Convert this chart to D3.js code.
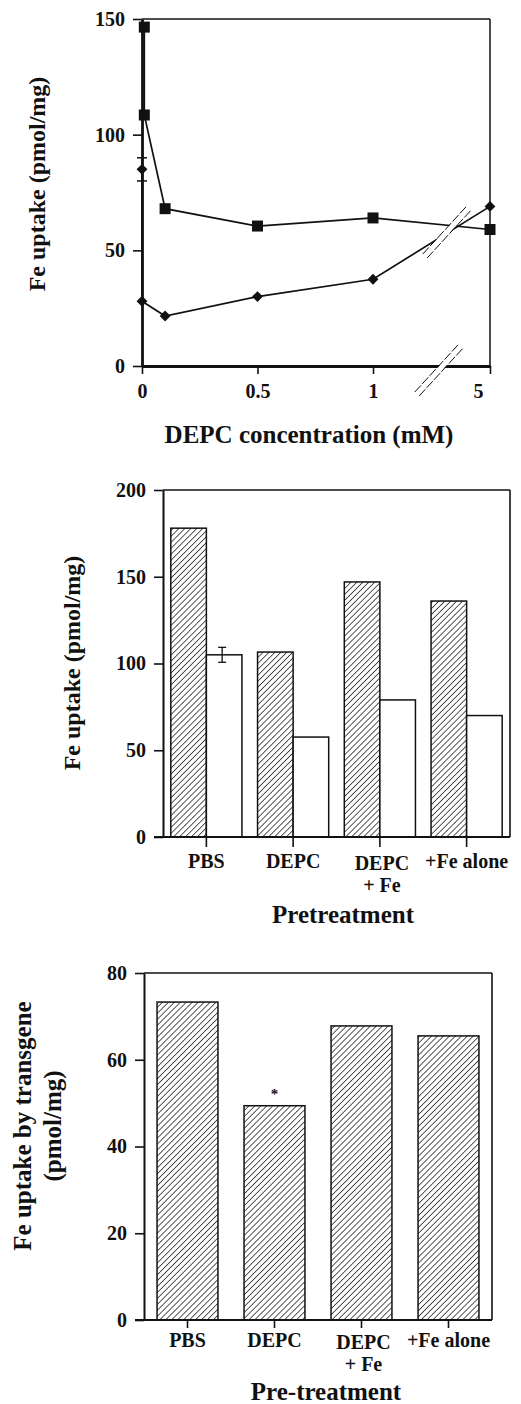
<!DOCTYPE html>
<html><head><meta charset="utf-8">
<script src="https://cdn.jsdelivr.net/npm/d3@7"></script>
<style>
body{margin:0;background:#fff;}
svg{display:block;}
text{font-family:"Liberation Serif","Times New Roman",serif;font-weight:bold;fill:#111;}
</style></head>
<body>
<script>
// ---------- Data ----------
// Panel A: line chart
const concTicks = [0, 0.5, 1, 5];
const concTickLabels = ["0", "0.5", "1", "5"];
const squareConc = [0.01, 0.01, 0.1, 0.5, 1, 5];
const squareUptake = [146.5, 108.5, 68, 60.5, 64, 59];
const diamondConc = [0, 0, 0.1, 0.5, 1, 5];
const diamondUptake = [85, 28, 21.6, 30, 37.5, 69];
const diamondErr = [5, 0, 0, 0, 0, 0];
const yTicksA = [0, 50, 100, 150];

// Panel B: grouped bars
const categoriesB = ["PBS", "DEPC", "DEPC|+ Fe", "+Fe alone"];
const hatchedB = [178, 106.6, 147, 136];
const openB = [105, 57.6, 79, 70];
const openErrB = [4.3, 0, 0, 0];
const yTicksB = [0, 50, 100, 150, 200];

// Panel C: single bars
const categoriesC = ["PBS", "DEPC", "DEPC|+ Fe", "+Fe alone"];
const transgeneC = [73.3, 49.4, 67.8, 65.5];
const significantC = [false, true, false, false];
const yTicksC = [0, 20, 40, 60, 80];

// ---------- SVG ----------
const W = 521, H = 1404;
const svg = d3.select("body").append("svg").attr("width", W).attr("height", H);

const defs = svg.append("defs");
const HS = 4.2;
const pat = defs.append("pattern").attr("id", "hatch").attr("patternUnits", "userSpaceOnUse")
  .attr("width", HS).attr("height", HS).attr("patternTransform", "rotate(45)");
pat.append("rect").attr("width", HS).attr("height", HS).attr("fill", "#fff");
pat.append("line").attr("x1", 0).attr("y1", 0).attr("x2", 0).attr("y2", HS)
  .attr("stroke", "#111").attr("stroke-width", 1.4);

function styleAxis(g, w) {
  g.selectAll("path.domain").attr("stroke", "#111").attr("stroke-width", w);
  g.selectAll(".tick line").attr("stroke", "#111").attr("stroke-width", 1.6);
  g.selectAll(".tick text").attr("font-family", "Liberation Serif, serif").attr("font-weight", "bold").attr("fill", "#111");
}

// ================= Panel A =================
(function () {
  const x = d3.scaleLinear().domain([0, 1, 5]).range([142, 373, 490]);
  const y = d3.scaleLinear().domain([0, 150]).range([366, 19]);
  const g = svg.append("g");

  g.append("line").attr("x1", x(0)).attr("x2", x(5)).attr("y1", y(150)).attr("y2", y(150)).attr("stroke", "#111").attr("stroke-width", 1.5);
  g.append("line").attr("x1", x(5)).attr("x2", x(5)).attr("y1", y(150)).attr("y2", y(0)).attr("stroke", "#111").attr("stroke-width", 1.5);

  const ya = g.append("g").attr("transform", `translate(${x(0)},0)`)
    .call(d3.axisLeft(y).tickValues(yTicksA).tickSizeInner(9).tickSizeOuter(0).tickPadding(8));
  styleAxis(ya, 2.8);
  ya.selectAll(".tick text").attr("font-size", 20);

  const xa = g.append("g").attr("transform", `translate(0,${y(0)})`)
    .call(d3.axisBottom(x).tickValues(concTicks).tickFormat((d, i) => concTickLabels[i]).tickSizeInner(8).tickSizeOuter(0).tickPadding(10));
  styleAxis(xa, 2.8);
  xa.selectAll(".tick text").attr("font-size", 20).attr("dx", (d) => d === 5 ? -12 : 0);

  const line = d3.line();
  const sqPts = squareConc.map((c, i) => [x(c), y(squareUptake[i])]);
  const diPts = diamondConc.map((c, i) => [x(c), y(diamondUptake[i])]);
  g.append("path").attr("d", line(sqPts)).attr("fill", "none").attr("stroke", "#111").attr("stroke-width", 1.7);
  g.append("path").attr("d", line(diPts)).attr("fill", "none").attr("stroke", "#111").attr("stroke-width", 1.7);

  diamondConc.forEach((c, i) => {
    if (!diamondErr[i]) return;
    const cx = x(c), v = diamondUptake[i], e = diamondErr[i];
    g.append("line").attr("x1", cx).attr("x2", cx).attr("y1", y(v - e)).attr("y2", y(v + e)).attr("stroke", "#111").attr("stroke-width", 1.5);
    [v - e, v + e].forEach(t => g.append("line").attr("x1", cx - 5).attr("x2", cx + 5).attr("y1", y(t)).attr("y2", y(t)).attr("stroke", "#111").attr("stroke-width", 1.5));
  });

  g.selectAll("rect.sq").data(sqPts).enter().append("rect")
    .attr("x", d => d[0] - 5.5).attr("y", d => d[1] - 5.5).attr("width", 11).attr("height", 11).attr("fill", "#111");
  g.selectAll("path.di").data(diPts).enter().append("path")
    .attr("d", d3.symbol(d3.symbolDiamond2, 75)).attr("transform", d => `translate(${d[0]},${d[1]})`).attr("fill", "#111");

  function breakMark(cx, cy) {
    const dx = 22, dy = -24;
    const bg = g.append("g");
    bg.append("line").attr("x1", cx - dx).attr("y1", cy - dy).attr("x2", cx + dx).attr("y2", cy + dy)
      .attr("stroke", "#fff").attr("stroke-width", 5);
    [-2.2, 2.2].forEach(o => {
      bg.append("line").attr("x1", cx - dx + o).attr("y1", cy - dy + o * 0.9).attr("x2", cx + dx + o).attr("y2", cy + dy + o * 0.9)
        .attr("stroke", "#111").attr("stroke-width", 1).attr("stroke-dasharray", "9,2");
    });
  }
  breakMark(447, 232);
  breakMark(439, 370);

  g.append("text").attr("x", 309).attr("y", 443).attr("text-anchor", "middle").attr("font-size", 25).text("DEPC concentration (mM)");
  g.append("text").attr("transform", "translate(45,184) rotate(-90)").attr("text-anchor", "middle").attr("font-size", 24).text("Fe uptake (pmol/mg)");
})();

function catLabels(g, xb, cats, yBase, size) {
  cats.forEach(c => {
    const parts = c.split("|");
    const cx = xb(c) + xb.bandwidth() / 2;
    parts.forEach((p, j) => {
      g.append("text").attr("x", cx + (parts.length > 1 ? 2 : 0)).attr("y", yBase + (parts.length > 1 ? 2 : 0) + j * 22)
        .attr("text-anchor", "middle").attr("font-size", size).text(p);
    });
  });
}

// ================= Panel B =================
(function () {
  const y = d3.scaleLinear().domain([0, 200]).range([837, 490]);
  const xb = d3.scaleBand().domain(categoriesB).range([163, 510]).paddingInner(0.18).paddingOuter(0.09);
  const xs = d3.scaleBand().domain(["h", "o"]).range([0, xb.bandwidth()]);
  const g = svg.append("g");

  g.append("line").attr("x1", 163).attr("x2", 510).attr("y1", y(200)).attr("y2", y(200)).attr("stroke", "#111").attr("stroke-width", 1.6);
  g.append("line").attr("x1", 510).attr("x2", 510).attr("y1", y(200)).attr("y2", y(0)).attr("stroke", "#111").attr("stroke-width", 1.6);

  const bars = g.append("g");
  categoriesB.forEach((c, i) => {
    bars.append("rect").attr("x", xb(c) + xs("h")).attr("width", xs.bandwidth()).attr("y", y(hatchedB[i])).attr("height", y(0) - y(hatchedB[i]))
      .attr("fill", "url(#hatch)").attr("stroke", "#111").attr("stroke-width", 1.5);
    bars.append("rect").attr("x", xb(c) + xs("o")).attr("width", xs.bandwidth()).attr("y", y(openB[i])).attr("height", y(0) - y(openB[i]))
      .attr("fill", "#fff").attr("stroke", "#111").attr("stroke-width", 1.5);
    if (openErrB[i]) {
      const cx = xb(c) + xs("o") + xs.bandwidth() / 2 - 2;
      const v = openB[i], e = openErrB[i];
      bars.append("line").attr("x1", cx).attr("x2", cx).attr("y1", y(v - e)).attr("y2", y(v + e)).attr("stroke", "#111").attr("stroke-width", 1.3);
      [v - e, v + e].forEach(t => bars.append("line").attr("x1", cx - 4).attr("x2", cx + 4).attr("y1", y(t)).attr("y2", y(t)).attr("stroke", "#111").attr("stroke-width", 1.3));
    }
  });

  const ya = g.append("g").attr("transform", "translate(163,0)")
    .call(d3.axisLeft(y).tickValues(yTicksB).tickSizeInner(9).tickSizeOuter(0).tickPadding(8));
  styleAxis(ya, 2);
  ya.selectAll(".tick text").attr("font-size", 20);

  const xa = g.append("g").attr("transform", `translate(0,${y(0)})`)
    .call(d3.axisBottom(xb).tickSizeInner(10).tickSizeOuter(0).tickFormat(""));
  styleAxis(xa, 2);
  xa.select("path.domain").attr("d", `M154,0H510`);

  catLabels(g, xb, categoriesB, 868, 20);
  g.append("text").attr("x", 343).attr("y", 923).attr("text-anchor", "middle").attr("font-size", 25).text("Pretreatment");
  g.append("text").attr("transform", "translate(80,663) rotate(-90)").attr("text-anchor", "middle").attr("font-size", 24).text("Fe uptake (pmol/mg)");
})();

// ================= Panel C =================
(function () {
  const y = d3.scaleLinear().domain([0, 80]).range([1320, 973]);
  const xb = d3.scaleBand().domain(categoriesC).range([144, 492]).paddingInner(0.3).paddingOuter(0.15);
  const g = svg.append("g");

  g.append("line").attr("x1", 144).attr("x2", 492).attr("y1", y(80)).attr("y2", y(80)).attr("stroke", "#111").attr("stroke-width", 1.6);
  g.append("line").attr("x1", 492).attr("x2", 492).attr("y1", y(80)).attr("y2", y(0)).attr("stroke", "#111").attr("stroke-width", 1.6);

  categoriesC.forEach((c, i) => {
    g.append("rect").attr("x", xb(c)).attr("width", xb.bandwidth()).attr("y", y(transgeneC[i])).attr("height", y(0) - y(transgeneC[i]))
      .attr("fill", "url(#hatch)").attr("stroke", "#111").attr("stroke-width", 1.5);
    if (significantC[i]) {
      g.append("text").attr("x", xb(c) + xb.bandwidth() / 2).attr("y", y(transgeneC[i]) - 7).attr("text-anchor", "middle").attr("font-size", 15).text("*");
    }
  });

  const ya = g.append("g").attr("transform", "translate(144,0)")
    .call(d3.axisLeft(y).tickValues(yTicksC).tickSizeInner(9).tickSizeOuter(0).tickPadding(8));
  styleAxis(ya, 2);
  ya.selectAll(".tick text").attr("font-size", 20);

  const xa = g.append("g").attr("transform", `translate(0,${y(0)})`)
    .call(d3.axisBottom(xb).tickSizeInner(8).tickSizeOuter(0).tickFormat(""));
  styleAxis(xa, 2);
  xa.select("path.domain").attr("d", `M135,0H492`);

  catLabels(g, xb, categoriesC, 1347, 20);
  g.append("text").attr("x", 326).attr("y", 1400).attr("text-anchor", "middle").attr("font-size", 25).text("Pre-treatment");
  const yl = g.append("text").attr("transform", "translate(0,1126) rotate(-90)").attr("text-anchor", "middle").attr("font-size", 25);
  yl.append("tspan").attr("x", 0).attr("y", 31).text("Fe uptake  by transgene");
  yl.append("tspan").attr("x", 0).attr("y", 61).text("(pmol/mg)");
})();
</script>
</body></html>
